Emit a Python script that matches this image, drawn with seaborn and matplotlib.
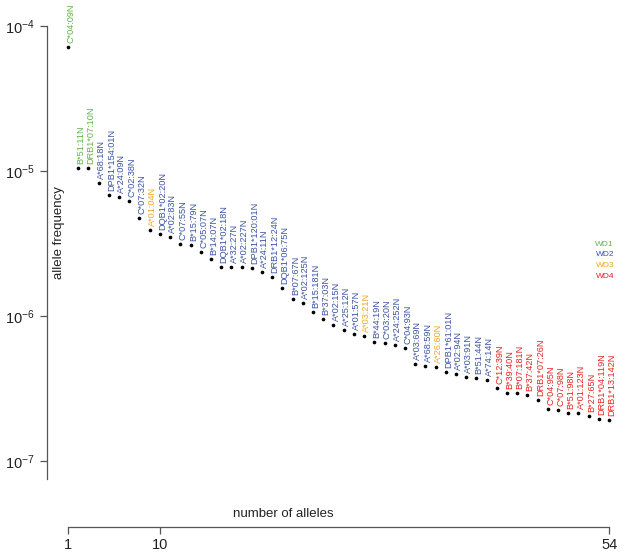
import numpy as np
import pandas as pd
import matplotlib
matplotlib.use("Agg")
import matplotlib.pyplot as plt
import seaborn as sns

# null alleles ranked by frequency, coloured by well-documented class
alleles = ["C*04:09N", "B*51:11N", "DRB1*07:10N", "A*68:18N", "DPB1*154:01N",
           "A*24:09N", "C*02:38N", "C*07:32N", "A*01:04N", "DQB1*02:20N",
           "A*02:83N", "C*07:55N", "B*15:79N", "C*05:07N", "B*14:07N",
           "DQB1*02:18N", "A*32:27N", "A*02:227N", "DPB1*120:01N", "A*24:11N",
           "DRB1*12:24N", "DQB1*06:75N", "B*07:67N", "A*02:125N", "B*15:181N",
           "B*37:03N", "A*02:15N", "A*25:12N", "A*01:57N", "A*03:21N",
           "B*44:19N", "C*03:20N", "A*24:252N", "C*04:93N", "A*03:69N",
           "A*68:59N", "A*26:60N", "DPB1*61:01N", "A*02:94N", "A*03:91N",
           "B*51:44N", "A*74:14N", "C*12:39N", "B*39:40N", "B*07:181N",
           "B*37:42N", "DRB1*07:26N", "C*04:95N", "C*07:98N", "B*51:98N",
           "A*01:123N", "B*27:65N", "DRB1*04:119N", "DRB1*13:142N"]

freq = [7.2e-5, 1.05e-5, 1.05e-5, 8.3e-6, 6.8e-6,
        6.6e-6, 6.2e-6, 4.74e-6, 3.92e-6, 3.68e-6,
        3.51e-6, 3.14e-6, 3.09e-6, 2.76e-6, 2.47e-6,
        2.18e-6, 2.18e-6, 2.18e-6, 2.14e-6, 2.01e-6,
        1.86e-6, 1.56e-6, 1.31e-6, 1.23e-6, 1.07e-6,
        9.5e-7, 8.7e-7, 8.0e-7, 7.5e-7, 7.3e-7,
        6.6e-7, 6.5e-7, 6.3e-7, 6.0e-7, 4.67e-7,
        4.52e-7, 4.45e-7, 4.11e-7, 3.98e-7, 3.79e-7,
        3.73e-7, 3.62e-7, 3.19e-7, 2.94e-7, 2.94e-7,
        2.85e-7, 2.63e-7, 2.28e-7, 2.25e-7, 2.14e-7,
        2.14e-7, 2.04e-7, 1.95e-7, 1.92e-7]

wd = ["WD1"] * 3 + ["WD2"] * 5 + ["WD3"] + ["WD2"] * 20 + ["WD3"] + \
     ["WD2"] * 6 + ["WD3"] + ["WD2"] * 5 + ["WD4"] * 12

wd_names = ["WD1", "WD2", "WD3", "WD4"]
wd_colors = ["#62B346", "#3B54A3", "#F6A623", "#E52421"]
x_ticks = [1, 10, 54]
y_ticks = [1e-4, 1e-5, 1e-6, 1e-7]

df = pd.DataFrame({"rank": np.arange(1, len(freq) + 1), "freq": freq,
                   "allele": alleles, "wd": wd})
pal = dict(zip(wd_names, wd_colors))

sns.set_style("ticks")
plt.rcParams["font.family"] = ["Liberation Sans", "DejaVu Sans"]

fig = plt.figure(figsize=(6.27, 5.55), dpi=100)
ax = fig.add_axes([47 / 627, 28 / 555, 577 / 627, 525 / 555])

sns.scatterplot(data=df, x="rank", y="freq", color="black", s=7,
                linewidth=0, ax=ax, zorder=3)
ax.set_yscale("log")
ax.set_xlim(-1.06, 55.46)
ax.set_ylim(10 ** -7.455, 10 ** -3.834)

for _, r in df.iterrows():
    ax.annotate(r["allele"], (r["rank"], r["freq"]), xytext=(2, 3),
                textcoords="offset points", rotation=90, ha="center",
                va="bottom", fontsize=6.6, color=pal[r["wd"]])

for sp in ["top", "right"]:
    ax.spines[sp].set_visible(False)
for sp in ["left", "bottom"]:
    ax.spines[sp].set_color("#555555")
    ax.spines[sp].set_linewidth(0.9)
ax.spines["left"].set_bounds(10 ** -7.126, 1e-4)
ax.spines["bottom"].set_bounds(1, 54)

ax.set_xticks(x_ticks)
ax.set_xticklabels([str(t) for t in x_ticks])
ax.set_yticks(y_ticks)
ax.yaxis.set_minor_locator(matplotlib.ticker.NullLocator())
ax.tick_params(axis="both", length=5, width=0.9, color="#555555",
               labelsize=10.5, labelcolor="#222222")
ax.tick_params(axis="x", pad=3)
ax.tick_params(axis="y", pad=4)

ax.set_ylabel("allele frequency", fontsize=9.5, color="#222222")
ax.yaxis.set_label_coords(0.031, 0.56)
ax.set_xlabel("number of alleles", fontsize=9.5, color="#222222")
ax.xaxis.set_label_coords(0.409, 0.037)

for i, (n, c) in enumerate(zip(wd_names, wd_colors)):
    fig.text(614 / 627, 1 - (244 + i * 10.7) / 555, n, color=c,
             fontsize=6, ha="right", va="center")

fig.savefig("out.png", dpi=100)
